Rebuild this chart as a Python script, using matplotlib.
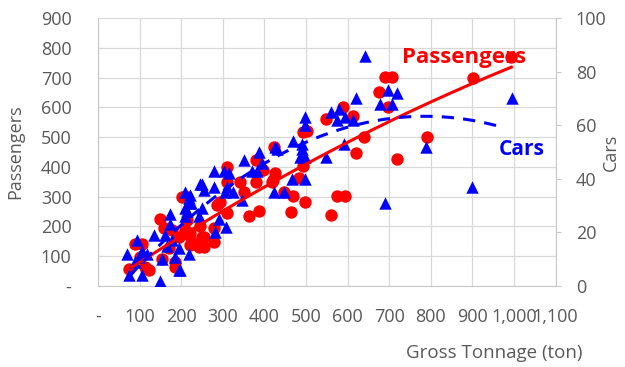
import matplotlib
matplotlib.use("Agg")
import matplotlib.pyplot as plt
from matplotlib.ticker import FuncFormatter, MultipleLocator
import numpy as np

# gross tonnage vs passengers (red circles)
gt_pax = [74, 114, 122, 102, 106, 90, 150, 154, 178, 170, 186, 194, 210, 202, 214, 222, 186,
          226, 158, 250, 242, 214, 294, 286, 246, 278, 218, 254, 254, 278, 222, 310, 310, 342,
          350, 380, 396, 426, 380, 418, 388, 362, 310, 423, 420, 448, 468, 498, 463, 484, 492,
          494, 503, 548, 560, 575, 594, 590, 612, 640, 620, 675, 698, 690, 706, 718, 790, 902, 994]
pax = [56, 65, 54, 96, 141, 140, 224, 90, 188, 127, 65, 166, 188, 300, 222, 177, 82,
       149, 194, 166, 132, 300, 283, 272, 201, 194, 171, 166, 132, 149, 138, 400, 350, 350,
       317, 423, 390, 378, 350, 350, 253, 235, 244, 468, 356, 317, 302, 283, 250, 362, 403,
       518, 520, 560, 238, 302, 302, 602, 571, 501, 446, 652, 600, 701, 701, 425, 501, 697, 768]

# gross tonnage vs cars (blue triangles)
gt_cars = [70, 74, 98, 94, 106, 106, 150, 134, 174, 174, 162, 166, 194, 194, 218, 218, 224,
           210, 246, 242, 154, 118, 90, 178, 186, 210, 222, 218, 214, 210, 250, 198,
           278, 302, 314, 250, 254, 278, 310, 324, 306, 346, 292, 308, 282, 426, 388, 350,
           394, 370, 383, 422, 448, 430, 470, 490, 490, 486, 466, 498, 498, 498, 498,
           548, 560, 580, 574, 594, 612, 620, 592, 642, 678, 698, 718, 706, 690, 788, 900, 995]
cars = [12, 4, 11, 17, 13, 4, 2, 19, 27, 23, 19, 15, 14, 6, 12, 33, 31,
        29, 38, 26, 10, 12, 9, 17, 11, 35, 34, 31, 28, 26, 29, 6,
        43, 43, 42, 38, 36, 37, 37, 35, 35, 32, 25, 22, 20, 52, 50, 47,
        46, 43, 43, 35, 35, 51, 54, 53, 51, 48, 40, 40, 63, 60, 48,
        48, 65, 66, 62, 63, 62, 70, 53, 86, 68, 73, 72, 68, 31, 52, 37, 70]

# trend lines
trend_gt_pax = [82, 200, 300, 400, 500, 583, 902, 994]
trend_pax = [65, 166, 250, 333, 406, 473, 686, 731]
trend_gt_cars = [74, 282, 434, 510, 558, 740, 978]
trend_cars = [3.5, 33, 49, 54.5, 57, 63, 59]

x_ticks = list(range(0, 1200, 100))
grey = "#595959"
red = "#ff0000"
blue = "#0000ff"

plt.rcParams["font.family"] = ["Open Sans", "DejaVu Sans"]

fig = plt.figure(figsize=(6.25, 3.67), dpi=100)
ax = fig.add_axes([98 / 625, 81 / 367, 457.5 / 625, 268 / 367])
ax2 = ax.twinx()

ax.scatter(gt_pax, pax, s=80, marker="o", color=red, linewidths=0, zorder=3)
ax2.scatter(gt_cars, cars, s=80, marker="^", color=blue, linewidths=0, zorder=3)

# excel-style order 2 polynomial trend lines
xp = np.linspace(trend_gt_pax[0], trend_gt_pax[-1], 200)
ax2.plot(xp, np.polyval(np.polyfit(trend_gt_pax, trend_pax, 2), xp), color=red, lw=2.2,
         transform=ax.transData, zorder=4)
xc = np.linspace(trend_gt_cars[0], trend_gt_cars[-1], 200)
ax2.plot(xc, np.polyval(np.polyfit(trend_gt_cars, trend_cars, 2), xc), color=blue, lw=2.2,
         ls=(0, (4, 3)), zorder=4)

ax.set_xlim(0, 1100)
ax.set_ylim(0, 900)
ax2.set_ylim(0, 100)
ax.set_xticks(x_ticks)
ax.yaxis.set_major_locator(MultipleLocator(100))
ax2.yaxis.set_major_locator(MultipleLocator(20))
fmt = FuncFormatter(lambda v, _: "-" if v == 0 else f"{v:,.0f}")
ax.xaxis.set_major_formatter(fmt)
ax.yaxis.set_major_formatter(fmt)

ax.grid(color="#d9d9d9", lw=0.9)
ax.set_axisbelow(True)
for sp in ["top", "right"]:
    ax.spines[sp].set_visible(False)
for sp in ["top", "left", "bottom"]:
    ax2.spines[sp].set_visible(False)
for sp in [ax.spines["left"], ax.spines["bottom"], ax2.spines["right"]]:
    sp.set_color("#c8c8c8")

ax.tick_params(axis="x", length=0, pad=16, labelsize=13, labelcolor=grey)
ax.tick_params(axis="y", length=0, pad=19, labelsize=13, labelcolor=grey)
ax2.tick_params(axis="y", length=3.6, color="#c8c8c8", pad=11, labelsize=13, labelcolor=grey)

ax.set_ylabel("Passengers", fontsize=13, color=grey, va="center")
ax.yaxis.set_label_coords(-0.18, 0.5)
ax2.set_ylabel("Cars", fontsize=13, color=grey, va="center")
ax2.yaxis.set_label_coords(1.122, 0.5)
ax.set_xlabel("Gross Tonnage (ton)", fontsize=13.5, color=grey, ha="right", va="center")
ax.xaxis.set_label_coords(1.06, -0.25)

ax.text(730, 769, "Passengers", color=red, fontsize=16, fontweight="bold", va="center")
ax.text(964, 457, "Cars", color=blue, fontsize=15, fontweight="bold", va="center")

fig.savefig("out.png", dpi=100)
